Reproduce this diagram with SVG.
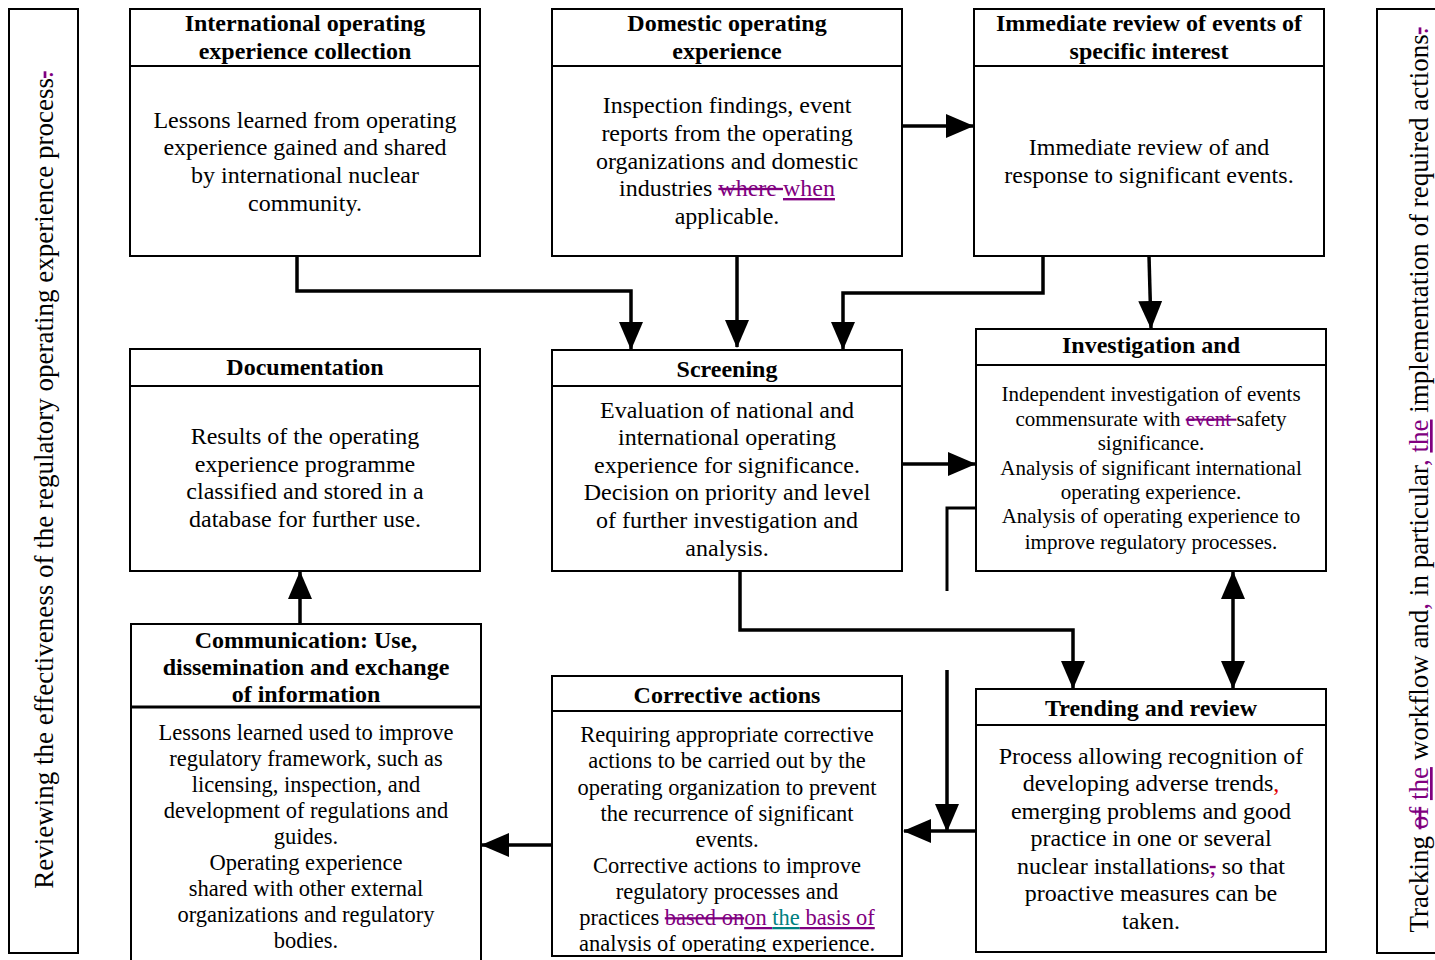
<svg xmlns="http://www.w3.org/2000/svg" width="1435" height="960" viewBox="0 0 1435 960">
<style>
.box{fill:#fff;stroke:#000;stroke-width:2}
.sep{stroke:#000;stroke-width:2}
.h{font-family:"Liberation Serif","Times New Roman",serif;font-weight:bold;font-size:24px;text-anchor:middle;fill:#000}
.b{font-family:"Liberation Serif","Times New Roman",serif;font-size:24px;text-anchor:middle;fill:#000}
.s{font-size:21px}
.m{font-size:22.5px}
.v{font-family:"Liberation Serif","Times New Roman",serif;font-size:27px;text-anchor:middle;fill:#000}
.del{fill:#800080;text-decoration:line-through}
.ins{fill:#800080;text-decoration:underline}
.insT{fill:#008080;text-decoration:underline}
.pur{fill:#800080}
.red{fill:#e00000}
.c{fill:none;stroke:#000;stroke-width:3.5}
</style>
<defs>
<marker id="ah" markerUnits="userSpaceOnUse" markerWidth="28" markerHeight="24" refX="27" refY="12" orient="auto-start-reverse" viewBox="0 0 28 24">
<path d="M0,0 L28,12 L0,24 z" fill="#000"/>
</marker>
<clipPath id="clipBottom"><rect x="0" y="0" width="1435" height="952"/></clipPath>
</defs>
<rect width="1435" height="960" fill="#fff"/>

<g id="side-left">
<rect class="box" x="9" y="9" width="69" height="944"/>
<text class="v" transform="translate(53,480) rotate(-90)">Reviewing the effectiveness of the regulatory operating experience process<tspan class="del">.</tspan></text>
</g>

<g id="side-right">
<rect class="box" x="1377" y="9" width="70" height="944"/>
<text class="v" transform="translate(1428,480) rotate(-90)">Tracking <tspan class="del">of</tspan> <tspan class="ins">the</tspan> workflow and<tspan class="pur">,</tspan> in particular<tspan class="pur">,</tspan> <tspan class="ins">the</tspan> implementation of  required actions<tspan class="del">.</tspan></text>
</g>

<g id="international">
<rect class="box" x="130" y="9" width="350" height="247"/>
<line class="sep" x1="130" y1="66" x2="480" y2="66"/>
<text class="h" x="305" y="31">International operating</text>
<text class="h" x="305" y="59">experience collection</text>
<text class="b" x="305" y="128">Lessons learned from operating</text>
<text class="b" x="305" y="155">experience gained and shared</text>
<text class="b" x="305" y="183">by international nuclear</text>
<text class="b" x="305" y="211">community.</text>
</g>

<g id="domestic">
<rect class="box" x="552" y="9" width="350" height="247"/>
<line class="sep" x1="552" y1="66" x2="902" y2="66"/>
<text class="h" x="727" y="31">Domestic operating</text>
<text class="h" x="727" y="59">experience</text>
<text class="b" x="727" y="113">Inspection findings, event</text>
<text class="b" x="727" y="141">reports from the operating</text>
<text class="b" x="727" y="169">organizations and domestic</text>
<text class="b" x="727" y="196">industries <tspan class="del">where </tspan><tspan class="ins">when</tspan></text>
<text class="b" x="727" y="224">applicable.</text>
</g>

<g id="immediate">
<rect class="box" x="974" y="9" width="350" height="247"/>
<line class="sep" x1="974" y1="66" x2="1324" y2="66"/>
<text class="h" x="1149" y="31">Immediate review of events of</text>
<text class="h" x="1149" y="59">specific interest</text>
<text class="b" x="1149" y="155">Immediate review of and</text>
<text class="b" x="1149" y="183">response to significant events.</text>
</g>

<g id="documentation">
<rect class="box" x="130" y="349" width="350" height="222"/>
<line class="sep" x1="130" y1="386" x2="480" y2="386"/>
<text class="h" x="305" y="375">Documentation</text>
<text class="b" x="305" y="444">Results of the operating</text>
<text class="b" x="305" y="472">experience programme</text>
<text class="b" x="305" y="499">classified and stored in a</text>
<text class="b" x="305" y="527">database for further use.</text>
</g>

<g id="screening">
<rect class="box" x="552" y="350" width="350" height="221"/>
<line class="sep" x1="552" y1="386" x2="902" y2="386"/>
<text class="h" x="727" y="377">Screening</text>
<text class="b" x="727" y="418">Evaluation of national and</text>
<text class="b" x="727" y="445">international operating</text>
<text class="b" x="727" y="473">experience for significance.</text>
<text class="b" x="727" y="500">Decision on priority and level</text>
<text class="b" x="727" y="528">of further investigation and</text>
<text class="b" x="727" y="556">analysis.</text>
</g>

<g id="investigation">
<rect class="box" x="976" y="329" width="350" height="242"/>
<line class="sep" x1="976" y1="365" x2="1326" y2="365"/>
<text class="h" x="1151" y="353">Investigation and</text>
<text class="b s" x="1151" y="401">Independent investigation of events</text>
<text class="b s" x="1151" y="426">commensurate with <tspan class="del">event </tspan>safety</text>
<text class="b s" x="1151" y="450">significance.</text>
<text class="b s" x="1151" y="475">Analysis of significant international</text>
<text class="b s" x="1151" y="499">operating experience.</text>
<text class="b s" x="1151" y="523">Analysis of operating experience to</text>
<text class="b s" x="1151" y="549">improve regulatory processes.</text>
</g>

<g id="communication">
<rect class="box" x="131" y="624" width="350" height="345"/>
<line class="sep" x1="131" y1="707" x2="481" y2="707" style="stroke-width:3"/>
<text class="h" x="306" y="648">Communication: Use,</text>
<text class="h" x="306" y="675">dissemination and exchange</text>
<text class="h" x="306" y="702">of information</text>
<text class="b m" x="306" y="740">Lessons learned used to improve</text>
<text class="b m" x="306" y="766">regulatory framework, such as</text>
<text class="b m" x="306" y="792">licensing, inspection, and</text>
<text class="b m" x="306" y="818">development of regulations and</text>
<text class="b m" x="306" y="844">guides.</text>
<text class="b m" x="306" y="870">Operating experience</text>
<text class="b m" x="306" y="896">shared with other external</text>
<text class="b m" x="306" y="922">organizations and regulatory</text>
<text class="b m" x="306" y="948">bodies.</text>
</g>

<g id="corrective">
<rect class="box" x="552" y="676" width="350" height="280"/>
<line class="sep" x1="552" y1="711" x2="902" y2="711"/>
<text class="h" x="727" y="703">Corrective actions</text>
<g clip-path="url(#clipBottom)">
<text class="b m" x="727" y="742">Requiring appropriate corrective</text>
<text class="b m" x="727" y="768">actions to be carried out by the</text>
<text class="b m" x="727" y="795">operating organization to prevent</text>
<text class="b m" x="727" y="821">the recurrence of significant</text>
<text class="b m" x="727" y="847">events.</text>
<text class="b m" x="727" y="873">Corrective actions to improve</text>
<text class="b m" x="727" y="899">regulatory processes and</text>
<text class="b m" x="727" y="925">practices <tspan class="del">based on</tspan><tspan class="ins">on </tspan><tspan class="insT">the</tspan><tspan class="ins"> basis of</tspan></text>
<text class="b m" x="727" y="951">analysis of operating experience.</text>
</g>
</g>

<g id="trending">
<rect class="box" x="976" y="689" width="350" height="263"/>
<line class="sep" x1="976" y1="725" x2="1326" y2="725"/>
<text class="h" x="1151" y="716">Trending and review</text>
<text class="b" x="1151" y="764">Process allowing recognition of</text>
<text class="b" x="1151" y="791">developing adverse trends<tspan class="red">,</tspan></text>
<text class="b" x="1151" y="819">emerging problems and good</text>
<text class="b" x="1151" y="846">practice in one or several</text>
<text class="b" x="1151" y="874">nuclear installations<tspan class="del">,</tspan> so that</text>
<text class="b" x="1151" y="901">proactive measures can be</text>
<text class="b" x="1151" y="929">taken.</text>
</g>

<g id="connectors">
<polyline class="c" points="297,256 297,291 631,291 631,349" marker-end="url(#ah)"/>
<line class="c" x1="737" y1="256" x2="737" y2="347" marker-end="url(#ah)"/>
<polyline class="c" points="1043,256 1043,293 843,293 843,349" marker-end="url(#ah)"/>
<line class="c" x1="1149" y1="256" x2="1151" y2="328" marker-end="url(#ah)"/>
<line class="c" x1="902" y1="126" x2="973" y2="126" marker-end="url(#ah)"/>
<line class="c" x1="902" y1="464" x2="975" y2="464" marker-end="url(#ah)"/>
<polyline class="c" points="947,591 947,508 976,508" style="stroke-width:3"/>
<polyline class="c" points="740,571 740,630 1073,630 1073,688" marker-end="url(#ah)"/>
<line class="c" x1="1233" y1="572" x2="1233" y2="688" marker-start="url(#ah)" marker-end="url(#ah)"/>
<line class="c" x1="947" y1="670" x2="947" y2="831" marker-end="url(#ah)"/>
<line class="c" x1="976" y1="831" x2="904" y2="831" marker-end="url(#ah)"/>
<line class="c" x1="552" y1="845" x2="482" y2="845" marker-end="url(#ah)"/>
<line class="c" x1="300" y1="624" x2="300" y2="572" marker-end="url(#ah)"/>
</g>
</svg>
